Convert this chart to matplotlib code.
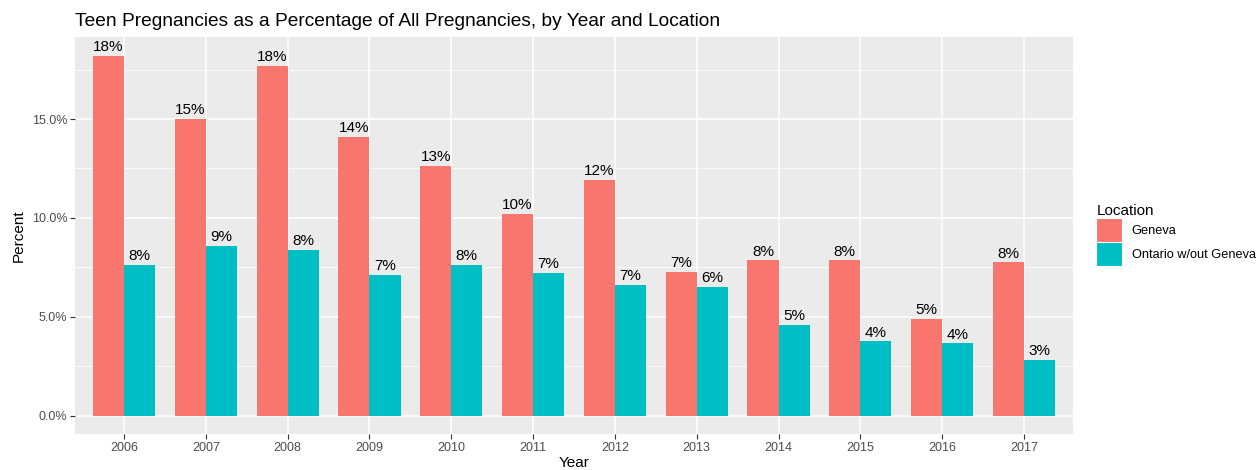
#!/usr/bin/env python
"""
Teen pregnancies as a percentage of all pregnancies, by year and location.
"""

import matplotlib
matplotlib.use("Agg")
import matplotlib.pyplot as plt
from matplotlib.patches import Patch
from matplotlib.ticker import FuncFormatter, MultipleLocator

# data (percent)
years = ["2006", "2007", "2008", "2009", "2010", "2011",
         "2012", "2013", "2014", "2015", "2016", "2017"]
geneva = [18.2, 15.0, 17.7, 14.1, 12.65, 10.2, 11.9, 7.25, 7.85, 7.85, 4.9, 7.75]
ontario = [7.6, 8.6, 8.4, 7.1, 7.6, 7.2, 6.6, 6.5, 4.6, 3.75, 3.65, 2.82]
locations = ["Geneva", "Ontario w/out Geneva"]

COLORS = ["#F8766D", "#00BFC4"]
BAR_W = 0.38

plt.rcParams["font.family"] = ["Liberation Sans", "DejaVu Sans"]

fig = plt.figure(figsize=(12.6, 4.7), dpi=100)
ax = fig.add_axes([75 / 1260, 1 - 434 / 470, 998 / 1260, 397 / 470])
ax.set_facecolor("#EBEBEB")

x = list(range(len(years)))
for series, color, shift in [(geneva, COLORS[0], -BAR_W / 2),
                             (ontario, COLORS[1], BAR_W / 2)]:
    pos = [i + shift for i in x]
    ax.bar(pos, series, width=BAR_W, color=color, zorder=3)

    # percentage labels above each bar
    for p, v in zip(pos, series):
        ax.annotate(f"{round(v):d}%", (p, v), xytext=(0, 3.5),
                    textcoords="offset points", ha="center", va="baseline",
                    fontsize=11, color="black", zorder=4)

# axes layout, ggplot-like
ax.set_xlim(-0.6, len(years) - 0.4)
ax.set_ylim(-0.93, 19.15)
ax.set_xticks(x)
ax.set_xticklabels(years)
ax.yaxis.set_major_locator(MultipleLocator(5))
ax.yaxis.set_minor_locator(MultipleLocator(2.5))
ax.yaxis.set_major_formatter(FuncFormatter(lambda v, _: f"{v:.1f}%"))

ax.grid(which="major", color="white", linewidth=1.1, zorder=0)
ax.grid(which="minor", axis="y", color="white", linewidth=0.55, zorder=0)
ax.set_axisbelow(True)
for spine in ax.spines.values():
    spine.set_visible(False)

ax.tick_params(which="major", length=3.5, width=0.8, color="#333333",
               labelsize=9, labelcolor="#4D4D4D", pad=2)
ax.tick_params(which="minor", length=0)

ax.set_xlabel("Year", fontsize=11, labelpad=2)
ax.set_ylabel("Percent", fontsize=11, labelpad=4)
ax.set_title("Teen Pregnancies as a Percentage of All Pregnancies, by Year and Location",
             loc="left", fontsize=13.8, pad=8)

# legend
handles = [Patch(facecolor=c, edgecolor="white", linewidth=0.8) for c in COLORS]
leg = fig.legend(handles, locations, title="Location", loc="upper left",
                 bbox_to_anchor=(1090 / 1260, 1 - 198 / 470), frameon=False,
                 fontsize=9.2, title_fontsize=11, handlelength=2.0,
                 handleheight=2.5, handletextpad=0.75, labelspacing=0.0,
                 borderpad=0, alignment="left")

fig.savefig("out.png", dpi=100)
